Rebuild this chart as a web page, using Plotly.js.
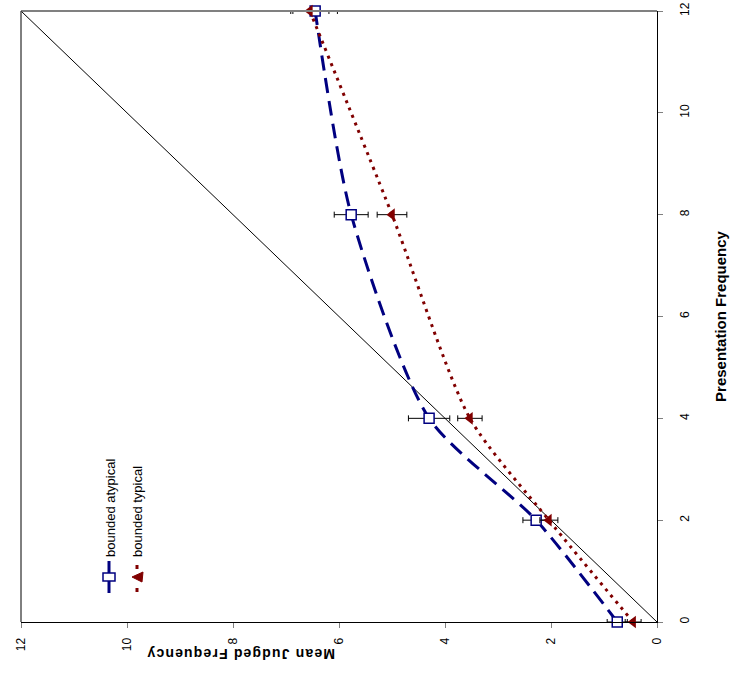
<!DOCTYPE html>
<html>
<head>
<meta charset="utf-8">
<script src="https://cdn.plot.ly/plotly-3.0.1.min.js"></script>
<style>
  html, body { margin: 0; padding: 0; background: #fff; }
  #chart { width: 736px; height: 675px; }
</style>
</head>
<body>
<div id="chart"></div>
<script>
// Presentation frequency (vertical axis in the rotated chart)
const presentationFreq = [0, 2, 4, 8, 12];
// Mean judged frequency (horizontal axis, reversed)
const atypicalMean = [0.75, 2.28, 4.30, 5.77, 6.45];
const atypicalErr  = [0.19, 0.25, 0.39, 0.32, 0.42];
const typicalMean  = [0.45, 2.04, 3.53, 5.00, 6.55];
const typicalErr   = [0.15, 0.17, 0.23, 0.28, 0.36];
const identityLine = [0, 12];
const tickValues = [0, 2, 4, 6, 8, 10, 12];
const seriesNames = ["bounded atypical", "bounded typical"];

const navy = "#000080";
const darkRed = "#800000";

const traces = [
  {
    x: identityLine, y: identityLine, type: "scatter", mode: "lines",
    line: { color: "#000000", width: 1 }, hoverinfo: "skip", showlegend: false
  },
  {
    x: atypicalMean, y: presentationFreq, type: "scatter", mode: "lines+markers",
    name: seriesNames[0], cliponaxis: false,
    line: { color: navy, width: 3, dash: "15px,8px", shape: "spline", smoothing: 0.7 },
    marker: { symbol: "square", size: 10, color: "#ffffff", line: { color: navy, width: 1.5 } },
    error_x: { type: "data", array: atypicalErr, visible: true, color: "#000000", thickness: 1, width: 3 },
    showlegend: false
  },
  {
    x: typicalMean, y: presentationFreq, type: "scatter", mode: "lines+markers",
    name: seriesNames[1], cliponaxis: false,
    line: { color: darkRed, width: 3, dash: "3px,5px", shape: "spline", smoothing: 0.7 },
    marker: { symbol: "triangle-left", size: 11, color: darkRed, line: { width: 0 } },
    error_x: { type: "data", array: typicalErr, visible: true, color: "#000000", thickness: 1, width: 3 },
    showlegend: false
  }
];

const fontFam = "Liberation Sans, Arial, sans-serif";
const spaced = "Mean Judged Frequency".split("").join("\u200A");

// legend geometry in pixels -> paper
const L = 21, R = 657, T = 11, B = 622;
const px = v => (v - L) / (R - L);
const py = v => (B - v) / (B - T);

const layout = {
  width: 736, height: 675,
  margin: { l: L, r: 736 - R, t: T, b: 675 - B, pad: 0 },
  paper_bgcolor: "#ffffff", plot_bgcolor: "#ffffff",
  showlegend: false,
  font: { family: fontFam, size: 11, color: "#000000" },
  xaxis: {
    range: [12, 0], tickvals: tickValues, ticktext: tickValues.map(String),
    tickangle: -90, ticks: "outside", ticklen: 5, tickcolor: "#808080",
    ticklabelstandoff: 5,
    showline: true, linecolor: "#000000", linewidth: 1,
    showgrid: false, zeroline: false,
    tickfont: { family: fontFam, size: 12, color: "#000000" }
  },
  yaxis: {
    range: [0, 12], side: "right", tickvals: tickValues, ticktext: tickValues.map(String),
    tickangle: -90, ticks: "outside", ticklen: 5, tickcolor: "#808080",
    ticklabelstandoff: 12,
    showline: true, linecolor: "#000000", linewidth: 1,
    showgrid: false, zeroline: false,
    tickfont: { family: fontFam, size: 12, color: "#000000" },
    title: { text: "<b>Presentation Frequency</b>", font: { family: fontFam, size: 15, color: "#000000" }, standoff: 24 }
  },
  shapes: [
    { type: "line", xref: "paper", yref: "paper", x0: 0, x1: 1, y0: 1, y1: 1, line: { color: "#808080", width: 2 } },
    { type: "line", xref: "paper", yref: "paper", x0: 0, x1: 0, y0: 0, y1: 1, line: { color: "#000000", width: 1 } },
    // legend samples
    { type: "line", xref: "paper", yref: "paper", x0: px(109), x1: px(109), y0: py(561), y1: py(593), line: { color: navy, width: 3 } },
    { type: "rect", xref: "paper", yref: "paper", x0: px(103), x1: px(115), y0: py(573), y1: py(581), fillcolor: "#ffffff", line: { color: navy, width: 1.5 } },
    { type: "line", xref: "paper", yref: "paper", x0: px(137), x1: px(137), y0: py(565), y1: py(569), line: { color: darkRed, width: 3 } },
    { type: "line", xref: "paper", yref: "paper", x0: px(137), x1: px(137), y0: py(588), y1: py(592), line: { color: darkRed, width: 3 } },
    { type: "path", xref: "paper", yref: "paper",
      path: `M ${px(132)} ${py(577)} L ${px(143)} ${py(572)} L ${px(142)} ${py(582)} Z`,
      fillcolor: darkRed, line: { color: darkRed, width: 1 } }
  ],
  annotations: [
    { text: "<b>" + spaced + "</b>", xref: "paper", yref: "paper", x: px(241), y: py(654),
      xanchor: "center", yanchor: "middle", textangle: 180, showarrow: false,
      font: { family: fontFam, size: 14, color: "#000000" } },
    { text: seriesNames[0], xref: "paper", yref: "paper", x: px(110), y: py(508),
      xanchor: "center", yanchor: "middle", textangle: -90, showarrow: false,
      font: { family: fontFam, size: 13, color: "#000000" } },
    { text: seriesNames[1], xref: "paper", yref: "paper", x: px(138), y: py(512),
      xanchor: "center", yanchor: "middle", textangle: -90, showarrow: false,
      font: { family: fontFam, size: 13, color: "#000000" } }
  ]
};

Plotly.newPlot("chart", traces, layout, { displayModeBar: false, staticPlot: true });
</script>
</body>
</html>
